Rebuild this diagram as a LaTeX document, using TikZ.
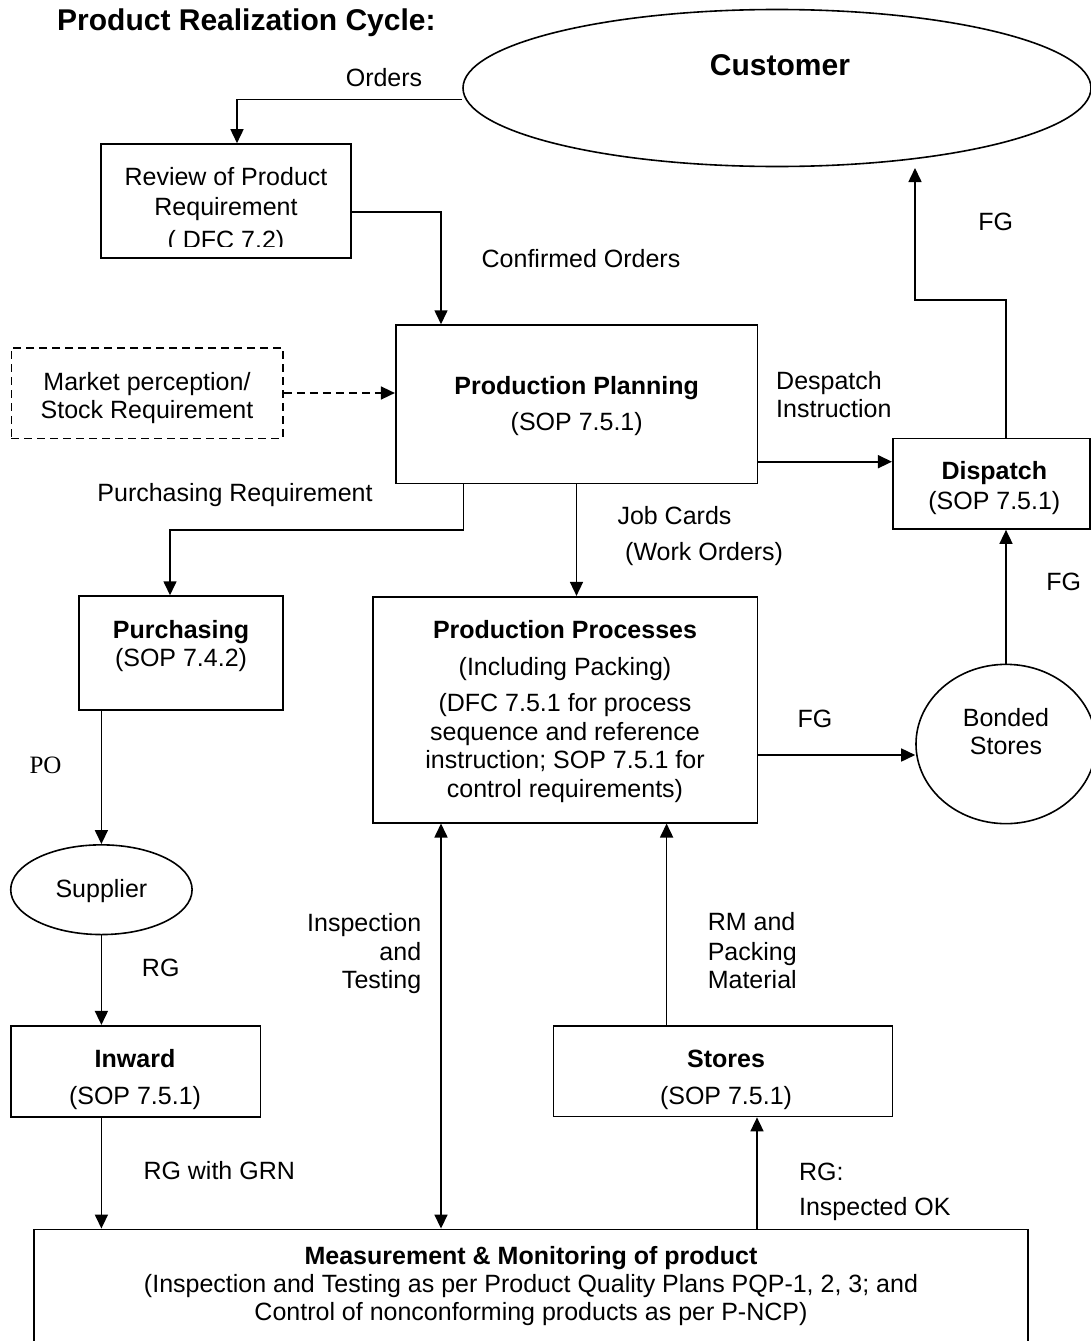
\documentclass[tikz,border=0pt]{standalone}
\usepackage{fontspec}
\setmainfont{Liberation Sans}
\newfontfamily\seriffont{Liberation Serif}
\usetikzlibrary{arrows.meta,shapes.geometric}

\begin{document}
\begin{tikzpicture}[x=1pt,y=-1pt,
  box/.style={draw,line width=1.6pt,inner sep=0pt},
  lbl/.style={inner sep=0pt,text height=18pt,text depth=0pt,font=\fontsize{25}{30}\selectfont},
  blbl/.style={lbl,font=\fontsize{25}{30}\selectfont\bfseries},
  big/.style={inner sep=0pt,text height=21.5pt,text depth=0pt,font=\fontsize{30}{36}\selectfont\bfseries},
  flow/.style={line width=1.6pt,-{Triangle[length=14pt,width=13pt]}},
  twoway/.style={line width=1.6pt,{Triangle[length=14pt,width=13pt]}-{Triangle[length=14pt,width=13pt]}}]
\useasboundingbox (0,0) rectangle (1091,1341);

\node[big,anchor=west] (title) at (57,20) {Product Realization Cycle:};

% customer and review
\node[box,ellipse,minimum width=628pt,minimum height=157pt] (cust) at (777,88) {};
\node[big] (custlbl) at (780,65) {Customer};
\node[box,minimum width=250pt,minimum height=114pt] (review) at (226,201) {};
\node[lbl] (review1) at (226,176) {Review of Product};
\node[lbl] (review2) at (226,206) {Requirement};
\begin{scope}
\clip (101,144) rectangle (351,246.7);
\node[lbl] (review3) at (226,239.5) {( DFC 7.2)};
\end{scope}
\node[lbl] (orders) at (384,77) {Orders};
\node[lbl] (confirmed) at (581,258) {Confirmed Orders};

% planning
\node[box,minimum width=361.6pt,minimum height=158.3pt] (pp) at (576.5,404.2) {};
\node[blbl] (pp1) at (576.7,385) {Production Planning};
\node[lbl] (pp2) at (576.7,421.7) {(SOP 7.5.1)};
\node[box,dash pattern=on 8pt off 5pt,minimum width=271.5pt,minimum height=90.6pt] (market) at (147.2,393) {};
\node[lbl] (market1) at (147,381) {Market perception/};
\node[lbl] (market2) at (147,409.3) {Stock Requirement};
\node[lbl,anchor=west] (desp1) at (776,380) {Despatch};
\node[lbl,anchor=west] (desp2) at (776,408) {Instruction};
\node[lbl] (purchreq) at (235,492.7) {Purchasing Requirement};
\node[lbl,anchor=west] (job1) at (617.3,515) {Job Cards};
\node[lbl,anchor=west] (job2) at (625,551.7) {(Work Orders)};

% dispatch side
\node[box,minimum width=197.3pt,minimum height=90.7pt] (dispatch) at (991.4,483.7) {};
\node[blbl] (dispatch1) at (994.3,470.7) {Dispatch};
\node[lbl] (dispatch2) at (994.3,500) {(SOP 7.5.1)};
\coordinate (fgbend) at (915,300);
\coordinate (fgtip) at (915,168);
\node[lbl] (fgtop) at (995.7,221.7) {FG};
\node[box,ellipse,minimum width=180pt,minimum height=159.3pt] (bonded) at (1006,744) {};
\node[lbl] (bonded1) at (1006,717.3) {Bonded};
\node[lbl] (bonded2) at (1006,745.7) {Stores};
\node[lbl] (fgright) at (1063.7,581.7) {FG};

% processes
\node[box,minimum width=384.6pt,minimum height=226pt] (pproc) at (565,709.7) {};
\node[blbl] (pproc1) at (565,629.3) {Production Processes};
\node[lbl] (pproc2) at (565,666) {(Including Packing)};
\node[lbl] (pproc3) at (565,702.7) {(DFC 7.5.1 for process};
\node[lbl] (pproc4) at (565,731) {sequence and reference};
\node[lbl] (pproc5) at (565,759.3) {instruction; SOP 7.5.1 for};
\node[lbl] (pproc6) at (565,788.3) {control requirements)};
\node[lbl] (fgmid) at (815,718.3) {FG};

% purchasing column
\node[box,minimum width=204pt,minimum height=113.7pt] (purch) at (181,652.9) {};
\node[blbl] (purch1) at (181,629) {Purchasing};
\node[lbl] (purch2) at (181,657.7) {(SOP 7.4.2)};
\node[lbl,font=\fontsize{25}{30}\selectfont\seriffont] (po) at (45.5,764) {PO};
\node[box,ellipse,minimum width=181.4pt,minimum height=89.7pt] (supplier) at (101.4,889.7) {};
\node[lbl] (supplier1) at (101.4,888) {Supplier};
\node[lbl] (rg) at (160.7,967) {RG};
\node[box,minimum width=249.3pt,minimum height=91pt] (inward) at (135.7,1071.2) {};
\node[blbl] (inward1) at (135,1058.3) {Inward};
\node[lbl] (inward2) at (135,1095.7) {(SOP 7.5.1)};
\node[lbl,anchor=west] (rggrn) at (143.3,1170.7) {RG with GRN};

% stores and inspection
\node[box,minimum width=339.3pt,minimum height=90.7pt] (stores) at (723,1071.2) {};
\node[blbl] (stores1) at (726,1058.6) {Stores};
\node[lbl] (stores2) at (726,1095.9) {(SOP 7.5.1)};
\node[lbl,anchor=east] (insp1) at (421.4,922.4) {Inspection};
\node[lbl,anchor=east] (insp2) at (421.4,951) {and};
\node[lbl,anchor=east] (insp3) at (421.4,979.3) {Testing};
\node[lbl,anchor=west] (rm1) at (707.6,921.4) {RM and};
\node[lbl,anchor=west] (rm2) at (707.6,951) {Packing};
\node[lbl,anchor=west] (rm3) at (707.6,979.3) {Material};
\node[lbl,anchor=west] (rgok1) at (798.9,1171.7) {RG:};
\node[lbl,anchor=west] (rgok2) at (798.9,1206.2) {Inspected OK};

% measurement
\node[box,minimum width=994.3pt,minimum height=120.7pt] (meas) at (530.9,1289.7) {};
\node[blbl] (meas1) at (531,1255) {Measurement \& Monitoring of product};
\node[lbl] (meas2) at (531,1283.3) {(Inspection and Testing as per Product Quality Plans PQP-1, 2, 3; and};
\node[lbl] (meas3) at (531,1311.7) {Control of nonconforming products as per P-NCP)};

% connectors
\draw[flow] ([yshift=-11.5pt]cust.west) -| ([xshift=11pt]review.north);
\draw[flow] ([yshift=-11pt]review.east) -| ([xshift=-135.5pt]pp.north);
\draw[flow,dash pattern=on 8pt off 5pt] (market.east) -- (market.east -| pp.west);
\draw[flow] ([yshift=-57.5pt]pp.east) -- ([yshift=-57.5pt]pp.east -| dispatch.west);
\draw[flow] ([xshift=14.6pt]dispatch.north) |- (fgbend) -- (fgtip);
\draw[flow] (bonded.north) -- (bonded.north |- dispatch.south);
\draw[flow] (pp.south) -- (pp.south |- pproc.north);
\draw[flow] ([xshift=-113.2pt]pp.south) -- ++(0,46) -| ([xshift=-11pt]purch.north);
\draw[flow] ([yshift=-45.3pt]pproc.east) -- ([yshift=-45.3pt]pproc.east -| bonded.west);
\draw[flow] (supplier.north |- purch.south) -- (supplier.north);
\draw[flow] (supplier.south) -- (supplier.south |- inward.north);
\draw[flow] (supplier.south |- inward.south) -- (supplier.south |- meas.north);
\draw[twoway] ([xshift=-124pt]pproc.south) -- ([xshift=-124pt]pproc.south |- meas.north);
\draw[flow] ([xshift=-56.4pt]stores.north) -- ([xshift=-56.4pt]stores.north |- pproc.south);
\draw[flow] ([xshift=34pt]stores.south |- meas.north) -- ([xshift=34pt]stores.south);
\end{tikzpicture}
\end{document}
